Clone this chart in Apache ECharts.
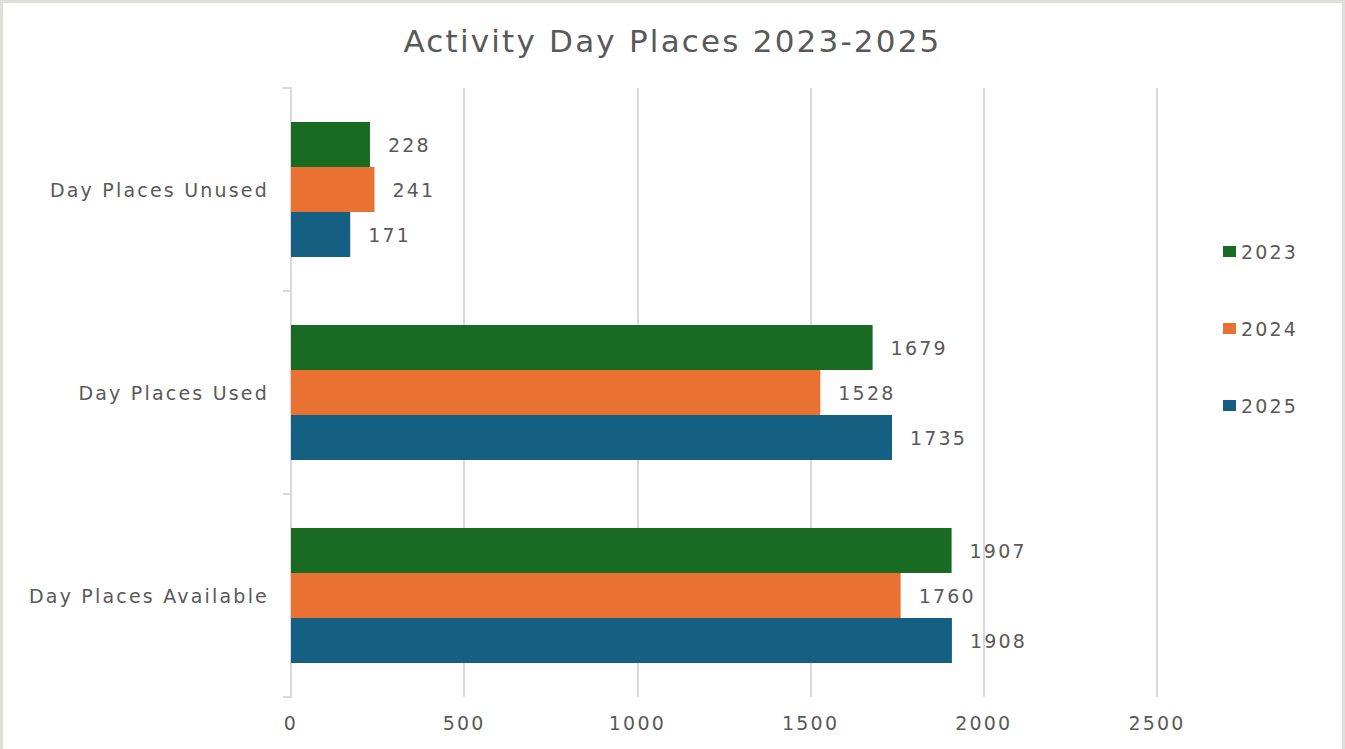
<!DOCTYPE html>
<html>
<head>
<meta charset="utf-8">
<script src="https://cdn.jsdelivr.net/npm/echarts@6/dist/echarts.min.js"></script>
<style>
  html, body {
    margin: 0;
    padding: 0;
    background: #dcdfda;
    overflow: hidden;
  }
  #chart {
    position: absolute;
    left: 3px;
    top: 3px;
    width: 1339px;
    height: 746px;
    background: #ffffff;
  }
  /* the original text is set wide */
  #chart svg text {
    letter-spacing: 2.2px;
  }
</style>
</head>
<body>
<div id="chart"></div>
<script>
  // categories, bottom to top like the picture
  var categories = ['Day Places Available', 'Day Places Used', 'Day Places Unused'];
  var years = ['2023', '2024', '2025'];
  var values2023 = [1907, 1679, 228];
  var values2024 = [1760, 1528, 241];
  var values2025 = [1908, 1735, 171];
  var xTicks = [0, 500, 1000, 1500, 2000, 2500];

  var colors = ['#196B24', '#E97132', '#156082'];
  var font = 'DejaVu Sans, sans-serif';
  var textColor = '#595959';
  var lineGray = '#d9d9d9';

  function barSeries(name, data, color) {
    return {
      name: name,
      type: 'bar',
      data: data,
      barWidth: 45,
      barGap: '0%',
      itemStyle: { color: color },
      label: {
        show: true,
        position: 'right',
        distance: 18,
        color: textColor,
        fontSize: 19,
        fontFamily: font
      }
    };
  }

  var chart = echarts.init(document.getElementById('chart'), null, { renderer: 'svg' });
  chart.setOption({
    animation: false,
    title: {
      text: 'Activity Day Places 2023-2025',
      left: 'center',
      top: 17,
      textStyle: {
        color: textColor,
        fontSize: 31,
        fontWeight: 'normal',
        fontFamily: font
      }
    },
    legend: {
      data: years,
      orient: 'vertical',
      left: 1215,
      top: 234,
      itemWidth: 13,
      itemHeight: 11,
      itemGap: 58,
      icon: 'rect',
      textStyle: {
        color: textColor,
        fontSize: 19,
        fontFamily: font
      }
    },
    grid: {
      left: 288,
      right: 185,
      top: 85,
      bottom: 52
    },
    xAxis: {
      type: 'value',
      min: xTicks[0],
      max: xTicks[xTicks.length - 1],
      interval: 500,
      axisLine: { show: false },
      axisTick: { show: false },
      splitLine: { show: true, lineStyle: { color: lineGray, width: 2 } },
      axisLabel: {
        color: textColor,
        fontSize: 19,
        fontFamily: font,
        margin: 16,
        formatter: function (v) { return String(v); }
      }
    },
    yAxis: {
      type: 'category',
      data: categories,
      axisLine: { show: true, lineStyle: { color: lineGray, width: 2 } },
      axisTick: { show: true, length: 8, lineStyle: { color: lineGray, width: 2 } },
      axisLabel: {
        color: textColor,
        fontSize: 19,
        fontFamily: font,
        margin: 22
      }
    },
    series: [
      barSeries('2023', values2023, colors[0]),
      barSeries('2024', values2024, colors[1]),
      barSeries('2025', values2025, colors[2])
    ]
  });
</script>
</body>
</html>
